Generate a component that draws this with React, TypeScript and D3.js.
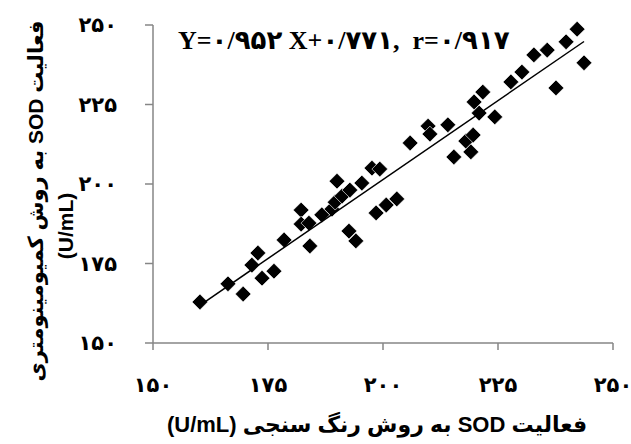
import React from "react";
import { scaleLinear, symbol, symbolSquare, mean, sum, extent } from "d3";

// colorimetric method (x) vs chemiluminometric method (y), U/mL
const colorimetric = [
  160.2, 166.3, 169.6, 171.5, 172.8, 173.7, 176.3, 178.5, 182.2, 182.2, 183.9, 184.1,
  186.7, 188.9, 190.0, 189.6, 191.1, 192.8, 192.6, 194.1, 195.4, 197.6, 199.3, 198.5,
  200.7, 203.0, 205.9, 209.8, 210.2, 214.1, 215.4, 218.0, 219.6, 219.1, 219.8, 221.7,
  220.9, 224.3, 227.8, 230.2, 232.8, 235.7, 237.6, 239.8, 242.2, 243.7,
];
const chemilum = [
  162.9, 168.6, 165.4, 174.5, 178.3, 170.4, 172.6, 182.4, 191.8, 187.4, 187.7, 180.5,
  190.3, 192.1, 200.9, 194.3, 196.2, 198.1, 185.2, 182.1, 200.3, 205.0, 204.7, 190.9,
  193.4, 195.3, 212.9, 218.2, 215.7, 218.6, 208.5, 213.5, 215.4, 210.1, 225.8, 228.9,
  222.3, 221.1, 232.1, 235.2, 240.6, 242.1, 230.2, 244.7, 248.7, 238.1,
];
const ticks = [150, 175, 200, 225, 250];
const tickLabels = ["۱۵۰", "۱۷۵", "۲۰۰", "۲۲۵", "۲۵۰"];
const equation = "Y=۰/۹۵۲ X+۰/۷۷۱,  r=۰/۹۱۷";
const xTitle = "فعالیت SOD به روش رنگ سنجی (U/mL)";
const yTitle1 = "فعالیت SOD به روش کمیومینومتری";
const yTitle2 = "(U/mL)";

const W = 631;
const H = 444;
const left = 153;
const right = 613;
const top = 25;
const bottom = 343;

export default function App() {
  const x = scaleLinear().domain([150, 250]).range([left, right]);
  const y = scaleLinear().domain([150, 250]).range([bottom, top]);

  // least squares trend line, like excel's linear trendline
  const mx = mean(colorimetric)!;
  const my = mean(chemilum)!;
  const slope =
    sum(colorimetric, (d, i) => (d - mx) * (chemilum[i] - my)) /
    sum(colorimetric, (d) => (d - mx) * (d - mx));
  const icpt = my - slope * mx;
  const [x0, x1] = extent(colorimetric) as [number, number];

  // excel diamond = square turned 45 degrees
  const diamond = symbol().type(symbolSquare).size(125)()!;
  const axisColor = "#868686";
  const labelFont = "'Liberation Serif', 'DejaVu Sans', serif";
  const titleFont = "'Liberation Sans', Arial, 'DejaVu Sans', sans-serif";

  return (
    <svg width={W} height={H} style={{ position: "absolute", left: 0, top: 0, background: "#fff" }}>
      {/* axes */}
      <line x1={left} x2={left} y1={top} y2={bottom} stroke={axisColor} strokeWidth={1.5} />
      <line x1={left} x2={right} y1={bottom} y2={bottom} stroke={axisColor} strokeWidth={1.5} />
      {ticks.map((t, i) => (
        <g key={"y" + t}>
          <line x1={left - 8} x2={left} y1={y(t)} y2={y(t)} stroke={axisColor} strokeWidth={1.5} />
          <text x={117} y={y(t)} textAnchor="end" dominantBaseline="central"
            fontFamily={labelFont} fontWeight="bold" fontSize={21}>{tickLabels[i]}</text>
        </g>
      ))}
      {ticks.map((t, i) => (
        <g key={"x" + t}>
          <line x1={x(t)} x2={x(t)} y1={bottom} y2={bottom + 7} stroke={axisColor} strokeWidth={1.5} />
          <text x={x(t)} y={385} textAnchor="middle" dominantBaseline="central"
            fontFamily={labelFont} fontWeight="bold" fontSize={21}>{tickLabels[i]}</text>
        </g>
      ))}

      {/* points */}
      {colorimetric.map((d, i) => (
        <path key={i} d={diamond} transform={`translate(${x(d)},${y(chemilum[i])}) rotate(45)`}
          fill="#000" stroke="#fff" strokeWidth={0.6} />
      ))}

      {/* trend line */}
      <line x1={x(x0)} y1={y(icpt + slope * x0)} x2={x(x1)} y2={y(icpt + slope * x1)}
        stroke="#000" strokeWidth={1.5} />

      <text x={178} y={40} dominantBaseline="central" fontFamily={labelFont}
        fontWeight="bold" fontSize={26} style={{ direction: "ltr", whiteSpace: "pre" }}>{equation}</text>

      {/* titles */}
      <text x={377} y={424} textAnchor="middle" dominantBaseline="central"
        fontFamily={titleFont} fontWeight="bold" fontSize={22} style={{ direction: "rtl" }}>{xTitle}</text>
      <text transform="translate(35,201) rotate(-90)" textAnchor="middle" dominantBaseline="central"
        fontFamily={titleFont} fontWeight="bold" fontSize={21} style={{ direction: "rtl" }}>{yTitle1}</text>
      <text transform="translate(65,226) rotate(-90)" textAnchor="middle" dominantBaseline="central"
        fontFamily={titleFont} fontWeight="bold" fontSize={21}>{yTitle2}</text>
    </svg>
  );
}
